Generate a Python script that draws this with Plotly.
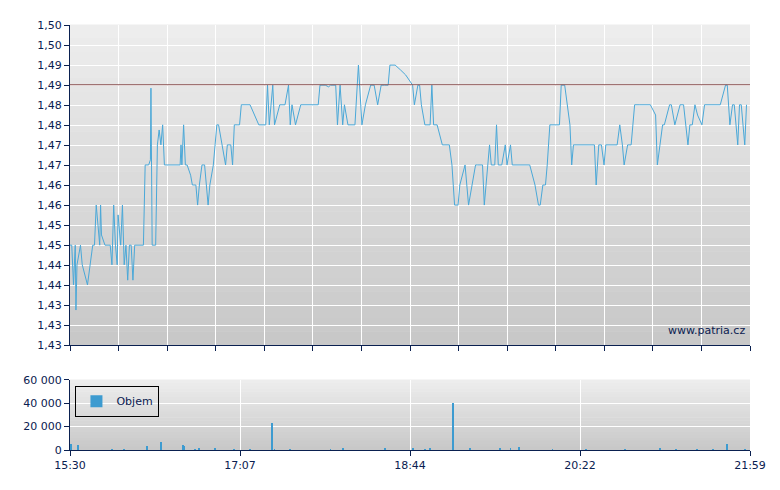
import plotly.graph_objects as go

# price series: minutes after 15:30, price
t = [0,1,2,3,3.4,4,6,7,10,13,14,15,17,17.5,18,20,23,24,25,26,27,27.5,29,30,31,32,33,34,35,36,37,40,42,43,45,46,46.3,47,49,50,51,52,53,54,57,63,63.5,64,65,66,67,69,70,72,73,74,75.5,77,78,79,80,82,83,84,85,87,89,90,92,93,94,96,97,98,102,103,108,112,113,114,116,117,120,123,125,126,127,129,132,134,140,142,143,146,148,149,152,153,154.5,156,157,159,163,165,167,169,172,174,176,178,180,182,183,186,189,192,194,196,197,199,200,201,203,206,207,208,210,213,214.5,217,218.5,220,222,223,226,228,230,232,233,236,237,240,241,243,244,245,247,249,250,252,253,255,257,263,266,268,269,270.5,272,273,274.5,277,280,281,283,286,287,288,292,297,300,301,302.5,304,305.5,306.5,309,313,314.5,316,317,319,321,323,326,329,332,335,336,337.5,339,340,343,344,346,349,351,353.5,354.6,356,357.5,359,361.5,363,365,367,372,375,376,377.5,379,380,382,383,384,386,387,389]
price = [1.4484,1.4484,1.4391,1.4484,1.4332,1.4438,1.4484,1.4438,1.4391,1.4484,1.4484,1.4578,1.4484,1.4578,1.4508,1.4484,1.4484,1.4438,1.4578,1.4484,1.4438,1.4555,1.4484,1.4578,1.4438,1.4484,1.4402,1.4484,1.4484,1.4402,1.4484,1.4484,1.4484,1.4672,1.4672,1.4684,1.4852,1.4484,1.4484,1.4719,1.4754,1.4719,1.4766,1.4672,1.4672,1.4672,1.4719,1.4672,1.4766,1.4672,1.4672,1.4648,1.4625,1.4625,1.4578,1.4625,1.4672,1.4672,1.4625,1.4578,1.4625,1.4672,1.4719,1.4766,1.4766,1.4719,1.4672,1.4719,1.4719,1.4672,1.4766,1.4766,1.4766,1.4813,1.4813,1.4813,1.4766,1.4766,1.4859,1.4766,1.4859,1.4766,1.4813,1.4813,1.4859,1.4766,1.4813,1.4766,1.4813,1.4813,1.4813,1.4813,1.4859,1.4859,1.4855,1.4859,1.4859,1.4766,1.4859,1.4766,1.4813,1.4766,1.4766,1.4906,1.4766,1.4813,1.4859,1.4859,1.4813,1.4859,1.4859,1.4859,1.4906,1.4906,1.4895,1.4883,1.4871,1.4859,1.4813,1.4859,1.4859,1.4813,1.4766,1.4766,1.4859,1.4766,1.4766,1.4719,1.4719,1.4719,1.4672,1.4578,1.4578,1.4625,1.4672,1.4578,1.4625,1.4672,1.4672,1.4672,1.4578,1.4719,1.4672,1.4672,1.4766,1.4672,1.4672,1.4719,1.4672,1.4719,1.4672,1.4672,1.4672,1.4672,1.4625,1.4578,1.4578,1.4625,1.4625,1.4672,1.4766,1.4766,1.4766,1.4859,1.4859,1.4766,1.4672,1.4719,1.4719,1.4719,1.4719,1.4625,1.4719,1.4719,1.4672,1.4719,1.4719,1.4719,1.4766,1.4719,1.4672,1.4719,1.4719,1.4813,1.4813,1.4813,1.4813,1.4789,1.4672,1.4719,1.4766,1.4766,1.4813,1.4813,1.4766,1.4813,1.4813,1.4719,1.4766,1.4766,1.4813,1.4789,1.4766,1.4813,1.4813,1.4813,1.4813,1.4859,1.4859,1.4766,1.4813,1.4813,1.4719,1.4813,1.4813,1.4719,1.4813]

# volume series
vol_t = [0.5,4.6,24,31,44,52,64.6,65.5,71.5,74,83,94,103,115.5,117,126,149,156,180,196,203,206,219,229,246,252,257,276,295,317.5,337.5,346.7,358.7,368,376,386]
vol = [5000,4000,1000,1200,3500,7000,4500,3500,1200,1500,1500,1000,800,23500,1200,800,1200,1500,2000,1800,1200,2200,40000,1500,1500,2200,2500,1000,800,500,2000,1000,1200,1200,5500,1000]

prev_close = 1.486
ytick_vals = [1.425 + i * 0.075 / 16 for i in range(17)]
ytick_text = [f"{v + 1e-9:.2f}".replace(".", ",") for v in ytick_vals]
xlabels = ["15:30", "17:07", "18:44", "20:22", "21:59"]

fig = go.Figure()
fig.add_trace(go.Scatter(x=t, y=price, mode="lines", line=dict(color="#4aa8d8", width=1),
                         showlegend=False, xaxis="x", yaxis="y"))
fig.add_trace(go.Bar(x=vol_t, y=vol, marker=dict(color="#3d9bd0", line_width=0), width=0.5,
                     name="Objem", xaxis="x2", yaxis="y2"))
fig.add_shape(type="line", xref="x", yref="y", x0=0, x1=389, y0=prev_close, y1=prev_close,
              line=dict(color="#8a5050", width=1))

# gradient backgrounds
n = 24
for dom in [(0.247, 1.0), (0.0, 0.165)]:
    h = (dom[1] - dom[0]) / n
    for i in range(n):
        g = int(238 - (238 - 200) * (i + 0.5) / n)
        fig.add_shape(type="rect", xref="paper", yref="paper", x0=0, x1=1,
                      y0=dom[1] - (i + 1) * h, y1=dom[1] - i * h + 0.001,
                      fillcolor=f"rgb({g},{g},{g})", line_width=0, layer="below")

ax = dict(showline=True, linecolor="#0a2050", linewidth=1, ticks="outside", tickcolor="#0a2050",
          ticklen=5, gridcolor="white", gridwidth=1, zeroline=False,
          tickfont=dict(family="DejaVu Sans", size=11, color="#0a2050"))
fig.update_layout(
    width=780, height=490, margin=dict(l=62, r=38, t=17, b=48),
    paper_bgcolor="white", plot_bgcolor="rgba(0,0,0,0)",
    xaxis=dict(ax, domain=[0, 1], range=[0, 389], tickvals=[i * 389 / 14 for i in range(15)],
               showticklabels=False, anchor="y"),
    yaxis=dict(ax, domain=[0.247, 1], range=[1.425, 1.5], tickvals=ytick_vals, ticktext=ytick_text),
    xaxis2=dict(ax, domain=[0, 1], range=[0, 389], tickvals=[i * 97.25 for i in range(5)],
                ticktext=xlabels, anchor="y2"),
    yaxis2=dict(ax, domain=[0, 0.165], range=[0, 60000], tickvals=[0, 20000, 40000, 60000],
                ticktext=["0", "20 000", "40 000", "60 000"]),
    showlegend=True,
    legend=dict(x=0.008, y=0.115, xanchor="left", yanchor="middle", bgcolor="rgba(0,0,0,0)",
                bordercolor="black", borderwidth=1, itemwidth=30,
                font=dict(family="DejaVu Sans", size=11, color="#0a2050")),
    bargap=0,
)
fig.add_annotation(text="www.patria.cz", xref="paper", yref="paper", x=0.995, y=0.262,
                   xanchor="right", yanchor="bottom", showarrow=False,
                   font=dict(family="DejaVu Sans", size=11, color="#0a2050"))
fig.write_html("out.html")
